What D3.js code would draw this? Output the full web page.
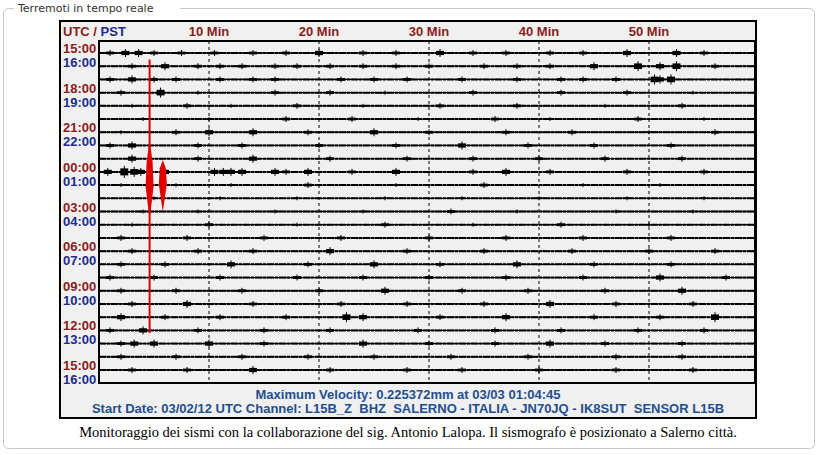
<!DOCTYPE html>
<html><head><meta charset="utf-8">
<script src="https://cdn.jsdelivr.net/npm/d3@7"></script>
<style>body{margin:0;background:#fff}</style>
</head><body><div id="container"></div>
<script>
/* DATA */
const minuteTicks = [10, 20, 30, 40, 50]
const utcLabels = ["15:00","18:00","21:00","00:00","03:00","06:00","09:00","12:00","15:00"]
const pstLabels = ["16:00","19:00","22:00","01:00","04:00","07:00","10:00","13:00","16:00"]
// bursts per trace: [minute, half-amplitude px]
const traceBursts = [
  [[1,2],[2.4,3],[3.6,3],[5,2],[7.5,2],[10.5,2],[14,2],[17,2],[20,3],[24,2],[27,2],[31,3],[34,2],[37,2],[41,2],[44,2],[48,3],[52.5,3],[55,2]],
  [[3,2],[6,3],[9,2],[11,2],[13,2],[16,2],[18,2],[21,2],[24,2],[27,2],[30,2],[35,2],[38,2],[41,2],[45,3],[49,4],[51,3],[52.5,4],[56,2]],
  [[1,2],[3,3],[5,2],[7,2],[11,2],[14,2],[16,2],[22,2],[25,2],[28,2],[33,2],[38,2],[42,2],[44,2],[47,2],[50.5,4],[51,3],[52,4]],
  [[2,2],[5.6,4],[9,1],[16,2],[21,2],[26,1],[34,2],[42,2],[48,2],[54,1]],
  [[3,1],[8,2],[12,1],[18,2],[24,1],[31,2],[38,2],[46,1],[53,2]],
  [[4,1],[10,1],[17,2],[23,2],[29,1],[36,2],[41,1],[49,2],[55,1]],
  [[2,1],[7,2],[10,3],[14,3],[19,2],[25,3],[30,2],[37,2],[43,2],[50,1],[56,2]],
  [[1,2],[3,3],[9,2],[13,2],[20,2],[27,2],[33,3],[39,2],[45,2],[52,2]],
  [[3,3],[9,2],[14,3],[21,2],[28,2],[34,2],[40,2],[46,2],[53,2]],
  [[0.8,3],[2.3,5],[3.2,4],[3.8,3],[6,3],[10.5,3],[11.3,3],[12,3],[13,3],[16,3],[17,2],[19,3],[23,2],[27,3],[34,2],[37,3],[41,2],[48,2],[55,2]],
  [[2,1],[7,1],[12,1],[19,2],[27,1],[35,2],[44,1],[51,1]],
  [[5,1],[11,1],[18,1],[26,1],[33,1],[40,1],[48,1],[55,1]],
  [[4,1],[9,1],[16,1],[24,1],[32,2],[38,1],[47,1],[54,1]],
  [[3,1],[10,2],[18,1],[26,2],[34,1],[42,2],[50,1]],
  [[2,2],[8,2],[15,2],[22,2],[30,2],[37,2],[44,2],[52,2]],
  [[3,2],[9,2],[14,2],[21,3],[28,2],[35,2],[43,2],[50,2],[56,2]],
  [[2,2],[6,2],[12,3],[19,2],[25,3],[31,2],[38,3],[45,2],[52,2]],
  [[1,2],[5,2],[11,2],[18,2],[24,2],[30,2],[37,2],[44,2],[51,3],[57,2]],
  [[2,2],[7,2],[13,2],[20,2],[26,3],[33,2],[39,2],[46,2],[53,3]],
  [[3,2],[8,3],[14,2],[22,2],[28,2],[35,2],[41,3],[47,2],[54,2]],
  [[2,3],[6,2],[11,2],[17,2],[22.5,4],[24,3],[31,2],[37,3],[45,2],[51,2],[56,4]],
  [[1,2],[4,3],[9,2],[15,2],[21,2],[29,2],[36,2],[42,2],[49,2],[55,2]],
  [[2,2],[3.2,3],[5,3],[10,3],[15,2],[24,3],[30,2],[36,2],[41,3],[46,2],[53,2]],
  [[2,2],[7,2],[13,2],[19,2],[25,2],[32,2],[39,2],[47,2],[53,2]],
  [[3,2],[8,2],[14,3],[21,2],[28,2],[33,2],[40,2],[47,2],[54,2]]
]
// earthquake: spindles [minute, trace, up px, down px]
const quakeSpindles = [[4.6, 9, 32, 48], [5.8, 9, 12, 40]]
const quakeLine = [4.6, 0.5, 21.2] // minute, trace start, trace end

const width = 819, height = 455
const svg = d3.select("#container").append("svg").attr("width", width).attr("height", height)

// fieldset frame
svg.append("rect").attr("x", 3.5).attr("y", 8.5).attr("width", 811).attr("height", 440)
  .attr("rx", 5).attr("fill", "none").attr("stroke", "#c8c8c8")
svg.append("rect").attr("x", 14).attr("y", 0).attr("width", 166).attr("height", 16).attr("fill", "#fff")
svg.append("text").attr("x", 18).attr("y", 12).text("Terremoti in tempo reale")
  .style("font", "11px Verdana, 'DejaVu Sans', sans-serif").attr("fill", "#333")

// chart box
svg.append("rect").attr("x", 60).attr("y", 21).attr("width", 696).attr("height", 397)
  .attr("fill", "#f0f0f0").attr("stroke", "#000").attr("stroke-width", 2)

const x = d3.scaleLinear().domain([0, 60]).range([99, 759])
const y = d3.scaleLinear().domain([0, 24]).range([53, 370])
const plotL = 99, plotT = 41, plotR = 755, plotB = 383

svg.append("defs").append("clipPath").attr("id", "clip")
  .append("rect").attr("x", plotL).attr("y", plotT).attr("width", plotR - plotL).attr("height", plotB - plotT)

const plot = svg.append("g").attr("clip-path", "url(#clip)")

// dashed minute lines
plot.selectAll("line.grid").data(minuteTicks).join("line").attr("class", "grid")
  .attr("x1", d => x(d)).attr("x2", d => x(d)).attr("y1", plotT).attr("y2", plotB)
  .attr("stroke", "#000").attr("stroke-dasharray", "3,3")

// traces
const traces = plot.selectAll("g.trace").data(traceBursts).join("g").attr("class", "trace")
traces.append("line").attr("x1", plotL).attr("x2", plotR)
  .attr("y1", (d, i) => y(i)).attr("y2", (d, i) => y(i))
  .attr("stroke", "#000").attr("stroke-width", 2).attr("stroke-dasharray", "7,1,3,1")
traces.append("line").attr("x1", plotL).attr("x2", plotR)
  .attr("y1", (d, i) => y(i)).attr("y2", (d, i) => y(i))
  .attr("stroke", "#000").attr("stroke-width", 1.3)
traces.each(function (bursts, i) {
  const g = d3.select(this)
  bursts.forEach(([m, a]) => {
    g.append("rect").attr("x", x(m) - 4).attr("width", 8)
      .attr("y", y(i) - a * 0.7).attr("height", a * 1.4).attr("fill", "#000")
    g.append("line").attr("x1", x(m)).attr("x2", x(m))
      .attr("y1", y(i) - a - 1).attr("y2", y(i) + a + 1).attr("stroke", "#000").attr("stroke-width", 1)
  })
})

// earthquake
plot.append("line").attr("x1", x(quakeLine[0])).attr("x2", x(quakeLine[0]))
  .attr("y1", y(quakeLine[1])).attr("y2", y(quakeLine[2]))
  .attr("stroke", "#e00000").attr("stroke-width", 2)
plot.selectAll("path.quake").data(quakeSpindles).join("path").attr("class", "quake")
  .attr("fill", "#e00000")
  .attr("d", ([m, t, up, down]) => {
    const cx = x(m), cy = y(t)
    return `M${cx},${cy - up} L${cx + 3},${cy - up * 0.3} L${cx + 4},${cy + down * 0.3} L${cx},${cy + down} L${cx - 4},${cy + down * 0.3} L${cx - 3},${cy - up * 0.3} Z`
  })

// plot border
svg.append("rect").attr("x", plotL).attr("y", plotT).attr("width", plotR - plotL).attr("height", plotB - plotT)
  .attr("fill", "none").attr("stroke", "#000").attr("stroke-width", 2)

const bold = "bold 13px Arial, 'Liberation Sans', sans-serif"
svg.append("text").attr("x", 63).attr("y", 36).style("font", bold)
  .html('<tspan fill="#8b1a1a">UTC /</tspan><tspan fill="#1a2a8b"> PST</tspan>')
svg.selectAll("text.min").data(minuteTicks).join("text").attr("class", "min")
  .attr("x", d => x(d)).attr("y", 36).attr("text-anchor", "middle")
  .style("font", bold).attr("fill", "#8b1a1a").text(d => d + " Min")
svg.selectAll("text.utc").data(utcLabels).join("text").attr("class", "utc")
  .attr("x", 63).attr("y", (d, i) => y(i * 3)).style("font", bold).attr("fill", "#8b1a1a").text(d => d)
svg.selectAll("text.pst").data(pstLabels).join("text").attr("class", "pst")
  .attr("x", 63).attr("y", (d, i) => y(i * 3) + 14).style("font", bold).attr("fill", "#1a2a8b").text(d => d)

svg.append("text").attr("x", 408).attr("y", 399).attr("text-anchor", "middle").style("font", bold)
  .attr("fill", "#1f4e8c").text("Maximum Velocity: 0.225372mm at 03/03 01:04:45")
svg.append("text").attr("x", 408).attr("y", 413).attr("text-anchor", "middle").style("font", bold)
  .attr("fill", "#1f4e8c").attr("xml:space", "preserve")
  .text("Start Date: 03/02/12 UTC Channel: L15B_Z  BHZ  SALERNO - ITALIA - JN70JQ - IK8SUT  SENSOR L15B")
svg.append("text").attr("x", 408).attr("y", 437).attr("text-anchor", "middle")
  .style("font", "14.5px 'Liberation Serif', 'Times New Roman', serif").attr("fill", "#000")
  .text("Monitoraggio dei sismi con la collaborazione del sig. Antonio Lalopa. Il sismografo è posizionato a Salerno città.")
</script></body></html>
